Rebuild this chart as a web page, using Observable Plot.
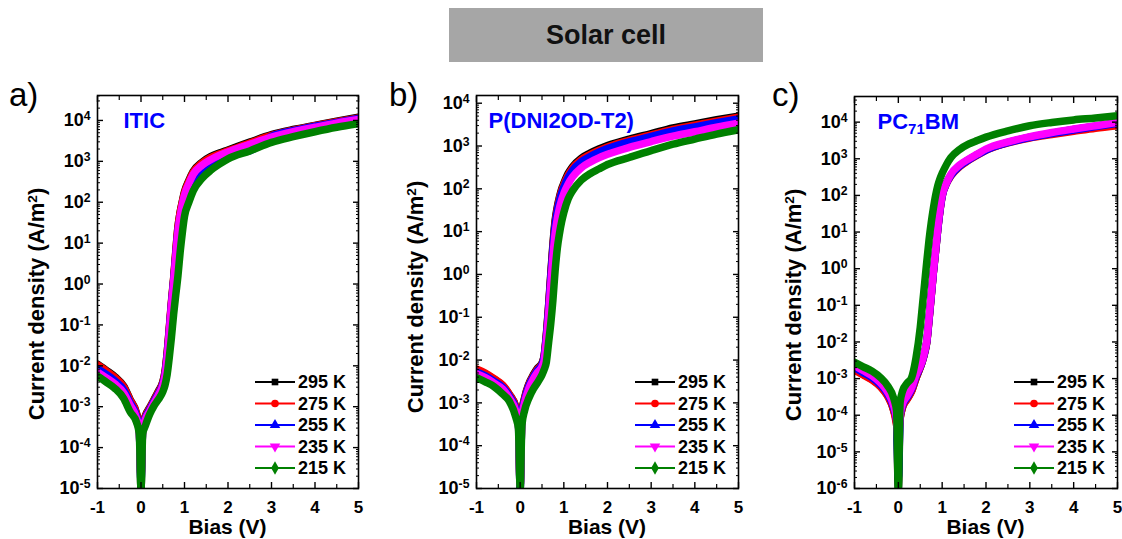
<!DOCTYPE html>
<html><head><meta charset="utf-8">
<script src="https://cdn.jsdelivr.net/npm/d3@7"></script>
<script src="https://cdn.jsdelivr.net/npm/@observablehq/plot@0.6"></script>
<style>
html,body{margin:0;padding:0;background:#fff;}
#root{position:relative;width:1122px;height:539px;overflow:hidden;font-family:"Liberation Sans",Arial,sans-serif;}
.title{position:absolute;left:449px;top:8px;width:314px;height:54px;background:#a6a6a6;display:flex;align-items:center;justify-content:center;font-weight:bold;font-size:27px;color:#111;}
.letter{position:absolute;top:78px;font-size:33px;line-height:1;color:#000;}
.panel{position:absolute;top:70px;}
.panel svg{overflow:visible;}
</style></head>
<body>
<div id="root">
  <div class="title">Solar cell</div>
  <div class="letter" style="left:9px">a)</div>
  <div class="letter" style="left:389px">b)</div>
  <div class="letter" style="left:772px">c)</div>
  <div class="panel" id="pa" style="left:0px"></div>
  <div class="panel" id="pb" style="left:380px"></div>
  <div class="panel" id="pc" style="left:760px"></div>
</div>
<script>
// ---- data ----
const bias = [-1, -0.8, -0.6, -0.4, -0.25, -0.1, -0.04, 0, 0.04, 0.1, 0.2, 0.3, 0.4, 0.5, 0.55, 0.6, 0.65, 0.7, 0.75, 0.8, 0.85, 0.9, 0.95, 1.0, 1.1, 1.2, 1.4, 1.6, 1.8, 2.0, 2.5, 3.0, 3.5, 4.0, 4.5, 5.0];
const temps = ["295 K", "275 K", "255 K", "235 K", "215 K"];
const seriesColors = ["#000000", "#ff0000", "#0000ff", "#ff00ff", "#008000"];
const panelNames = ["ITIC", "P(DNI2OD-T2)", "PC71BM"];
const xTitle = "Bias (V)";

// (a) ITIC
const itic295 = [1.1e-2, 7.8e-3, 5.4e-3, 3.2e-3, 1.5e-3, 6.8e-4, 3.2e-4, 1e-5, 3.4e-4, 6e-4, 9.5e-4, 1.5e-3, 2.4e-3, 4e-3, 7e-3, 2e-2, 8e-2, 0.35, 1.3, 6, 25, 58, 105, 180, 340, 570, 950, 1300, 1600, 1900, 2950, 4500, 6000, 7600, 9600, 1.2e4];
const itic275 = [1.05e-2, 7.5e-3, 5.2e-3, 3.1e-3, 1.45e-3, 6.6e-4, 3.1e-4, 2e-5, 3.3e-4, 5.8e-4, 9.2e-4, 1.45e-3, 2.3e-3, 3.9e-3, 6.8e-3, 2e-2, 8.5e-2, 0.38, 1.4, 6.5, 25, 56, 100, 170, 320, 540, 900, 1230, 1520, 1800, 2800, 4300, 5800, 7400, 9300, 1.15e4];
const itic255 = [8.5e-3, 6.2e-3, 4.3e-3, 2.6e-3, 1.25e-3, 5.8e-4, 2.8e-4, 1.5e-5, 3e-4, 5.3e-4, 8.5e-4, 1.35e-3, 2.1e-3, 3.6e-3, 6e-3, 1.7e-2, 7e-2, 0.32, 1.2, 5, 20, 42, 70, 105, 190, 320, 620, 950, 1250, 1550, 1800, 4100, 5600, 7200, 9000, 1.12e4];
const itic235 = [7e-3, 5.1e-3, 3.6e-3, 2.2e-3, 1.1e-3, 5.2e-4, 2.6e-4, 1.8e-5, 2.8e-4, 4.9e-4, 7.8e-4, 1.25e-3, 1.95e-3, 3.3e-3, 5.5e-3, 1.5e-2, 6.5e-2, 0.3, 1.1, 4.8, 19, 46, 88, 150, 285, 480, 800, 1100, 1400, 1700, 2600, 3900, 5300, 6800, 8600, 1.05e4];
const itic215 = [5.6e-3, 4e-3, 2.8e-3, 1.6e-3, 7.5e-4, 4.1e-4, 2.2e-4, 1e-5, 2.2e-4, 3.4e-4, 6.5e-4, 1.05e-3, 1.5e-3, 2.3e-3, 3.3e-3, 6e-3, 1.6e-2, 5e-2, 0.18, 0.55, 1.6, 6, 18, 45, 100, 190, 380, 600, 850, 1150, 1800, 2900, 4000, 5300, 6800, 8300];

// (b) P(DNI2OD-T2)
const dni295 = [6e-3, 4.8e-3, 3.6e-3, 2.5e-3, 1.6e-3, 8e-4, 4e-4, 1e-5, 6e-4, 1.3e-3, 2.8e-3, 4.5e-3, 6.5e-3, 8.5e-3, 1.3e-2, 4e-2, 0.18, 1.0, 5, 18, 38, 65, 100, 135, 230, 330, 520, 680, 850, 1020, 1450, 1950, 2650, 3300, 4100, 5000];
const dni275 = [6.2e-3, 5e-3, 3.7e-3, 2.6e-3, 1.6e-3, 8e-4, 4e-4, 1.2e-5, 5.8e-4, 1.25e-3, 2.7e-3, 4.3e-3, 6.2e-3, 8.2e-3, 1.25e-2, 3.8e-2, 0.17, 0.9, 4.5, 16, 34, 60, 92, 125, 210, 305, 480, 630, 790, 950, 1350, 1820, 2450, 3050, 3800, 4700];
const dni255 = [5.3e-3, 4.3e-3, 3.2e-3, 2.3e-3, 1.45e-3, 7.2e-4, 3.6e-4, 1e-5, 5.4e-4, 1.15e-3, 2.5e-3, 4e-3, 5.8e-3, 7.8e-3, 1.2e-2, 3.5e-2, 0.15, 0.8, 4, 14, 30, 52, 80, 110, 185, 270, 430, 570, 720, 870, 1250, 1680, 2250, 2800, 3500, 4300];
const dni235 = [4.8e-3, 3.9e-3, 2.9e-3, 2.1e-3, 1.3e-3, 6.4e-4, 3.2e-4, 1.2e-5, 4.8e-4, 1e-3, 2.2e-3, 3.6e-3, 5.2e-3, 7e-3, 1e-2, 2.8e-2, 0.11, 0.55, 2.6, 9, 20, 36, 55, 78, 130, 190, 310, 420, 530, 640, 930, 1270, 1700, 2150, 2750, 3400];
const dni215 = [3.9e-3, 3.1e-3, 2.4e-3, 1.6e-3, 1.1e-3, 4.6e-4, 2.5e-4, 1e-5, 3e-4, 6.5e-4, 1.3e-3, 2.1e-3, 3e-3, 4.5e-3, 6e-3, 9e-3, 2.5e-2, 7e-2, 0.25, 1.2, 4, 9, 17, 28, 58, 90, 160, 225, 290, 370, 540, 780, 1100, 1450, 1900, 2400];

// (c) PC71BM
const pcbm295 = [1.8e-3, 1.3e-3, 9.5e-4, 6e-4, 3.5e-4, 1.3e-4, 6e-5, 1e-6, 8e-5, 1.7e-4, 2.8e-4, 4.5e-4, 1e-3, 2e-3, 3e-3, 5e-3, 1e-2, 4e-2, 0.18, 0.8, 3, 12, 40, 100, 220, 360, 640, 940, 1300, 1750, 2800, 3900, 5000, 6300, 7800, 9500];
const pcbm275 = [1.7e-3, 1.25e-3, 9.2e-4, 5.8e-4, 3.4e-4, 1.25e-4, 5.5e-5, 3e-5, 8e-5, 1.7e-4, 2.7e-4, 4.4e-4, 1e-3, 2e-3, 3e-3, 5e-3, 1e-2, 4e-2, 0.17, 0.8, 3, 12, 38, 95, 210, 340, 610, 900, 1250, 1700, 2700, 3700, 4600, 5600, 6800, 8000];
const pcbm255 = [2e-3, 1.45e-3, 1.05e-3, 6.6e-4, 3.9e-4, 1.5e-4, 7e-5, 2e-6, 9e-5, 1.9e-4, 3e-4, 5e-4, 1.1e-3, 2.1e-3, 3.1e-3, 5.2e-3, 1.05e-2, 4.2e-2, 0.18, 0.82, 3.1, 12, 39, 95, 215, 350, 630, 920, 1280, 1720, 2750, 3800, 4900, 6100, 7600, 9300];
const pcbm235 = [2.3e-3, 1.65e-3, 1.2e-3, 7.5e-4, 4.4e-4, 1.7e-4, 8e-5, 1.5e-5, 1e-4, 2.1e-4, 3.3e-4, 5.5e-4, 1.2e-3, 2.2e-3, 3.2e-3, 5.5e-3, 1.1e-2, 4.5e-2, 0.19, 0.85, 3.2, 13, 41, 100, 220, 380, 680, 980, 1350, 1850, 2900, 4000, 5200, 6500, 8000, 9800];
const pcbm215 = [2.8e-3, 2.1e-3, 1.6e-3, 1.05e-3, 6.5e-4, 2.8e-4, 1.3e-4, 1e-6, 2.2e-4, 4.7e-4, 7.5e-4, 1.05e-3, 3.5e-3, 2.5e-2, 0.1, 0.4, 1.6, 6, 18, 45, 100, 185, 285, 400, 700, 1080, 1800, 2500, 3150, 3900, 5800, 8000, 9800, 1.15e4, 1.3e4, 1.5e4];

// ---- layout ----
const FONT = '"Liberation Sans", Arial, sans-serif';
const H = 469;
const panels = [
  {el: "#pa", series: [itic295, itic275, itic255, itic235, itic215], width: 370, ml: 97, mr: 12, mt: 25, mb: 51, ylo: -5, ytop: 4.61, nameDx: 26, yLabelX: 36, yLabelY: 234, name: panelNames[0]},
  {el: "#pb", series: [dni295, dni275, dni255, dni235, dni215], width: 370, ml: 96, mr: 12, mt: 25, mb: 51, ylo: -5, ytop: 4.18, nameDx: 12, yLabelX: 35, yLabelY: 227, name: panelNames[1]},
  {el: "#pc", series: [pcbm295, pcbm275, pcbm255, pcbm235, pcbm215], width: 362, ml: 94, mr: 5, mt: 26, mb: 51, ylo: -6, ytop: 4.70, nameDx: 23, yLabelX: 33, yLabelY: 235, name: panelNames[2]}
];

const xMajor = [-1, 0, 1, 2, 3, 4, 5];
const xMinor = [-0.5, 0.5, 1.5, 2.5, 3.5, 4.5];
const fmtY = d => "10^" + Math.round(Math.log10(d));
const NS = "http://www.w3.org/2000/svg";

function draw(p) {
  const rows = temps.flatMap((t, i) => bias.map((v, j) => ({V: v, J: p.series[i][j], T: t})));
  const ymax = Math.pow(10, p.ytop);
  const yMajor = d3.range(p.ylo, Math.floor(p.ytop) + 1).map(e => Math.pow(10, e));
  const yMinor = [];
  for (let e = p.ylo; e <= Math.floor(p.ytop); e++) for (let m = 2; m <= 9; m++) { const v = m * Math.pow(10, e); if (v < ymax) yMinor.push(v); }
  const blank = () => "";
  const svg = Plot.plot({
    width: p.width, height: H,
    marginLeft: p.ml, marginRight: p.mr, marginTop: p.mt, marginBottom: p.mb,
    style: {fontFamily: FONT, background: "transparent", color: "#000", overflow: "visible"},
    x: {domain: [-1, 5]},
    y: {type: "log", domain: [Math.pow(10, p.ylo), ymax]},
    color: {domain: temps, range: seriesColors},
    marks: [
      Plot.line(rows, {x: "V", y: "J", z: "T", stroke: "T", strokeWidth: 7.5, curve: "monotone-x", clip: true, strokeLinejoin: "round", strokeLinecap: "round"}),
      Plot.frame({stroke: "#000", strokeWidth: 1.6}),
      Plot.axisX({anchor: "bottom", ticks: xMajor, tickSize: -6, tickPadding: 18, tickFormat: d => String(d), fontSize: 17, fontWeight: "bold", label: null, strokeWidth: 1.4}),
      Plot.axisX({anchor: "bottom", ticks: xMinor, tickSize: -4, tickFormat: blank, label: null, strokeWidth: 1.2}),
      Plot.axisX({anchor: "top", ticks: xMajor, tickSize: -6, tickFormat: blank, label: null, strokeWidth: 1.4}),
      Plot.axisX({anchor: "top", ticks: xMinor, tickSize: -4, tickFormat: blank, label: null, strokeWidth: 1.2}),
      Plot.axisY({anchor: "left", ticks: yMajor, tickSize: -6, tickPadding: 13, tickFormat: fmtY, fontSize: 18, fontWeight: "bold", label: null, strokeWidth: 1.4}),
      Plot.axisY({anchor: "left", ticks: yMinor, tickSize: -3, tickFormat: blank, label: null, strokeWidth: 1}),
      Plot.axisY({anchor: "right", ticks: yMajor, tickSize: -6, tickFormat: blank, label: null, strokeWidth: 1.4}),
      Plot.axisY({anchor: "right", ticks: yMinor, tickSize: -3, tickFormat: blank, label: null, strokeWidth: 1}),
      Plot.text([p.name], {frameAnchor: "top-left", dx: p.nameDx, dy: 25, textAnchor: "start", lineAnchor: "middle", fill: "#0000ff", fontSize: 22, fontWeight: "bold"})
    ]
  });

  // superscript exponents on y tick labels
  svg.querySelectorAll('g[aria-label="y-axis tick label"] text').forEach(t => {
    const s = t.textContent;
    if (!s.includes("^")) return;
    const [b, e] = s.split("^");
    t.textContent = "";
    const t1 = document.createElementNS(NS, "tspan"); t1.textContent = b;
    const t2 = document.createElementNS(NS, "tspan"); t2.textContent = e;
    t2.setAttribute("dy", "-0.5em"); t2.setAttribute("font-size", "0.68em");
    t.append(t1, t2);
  });
  // subscript in PC71BM
  svg.querySelectorAll("text").forEach(t => {
    if (t.textContent === "PC71BM") {
      t.textContent = "";
      const a = document.createElementNS(NS, "tspan"); a.textContent = "PC";
      const b = document.createElementNS(NS, "tspan"); b.textContent = "71"; b.setAttribute("dy", "5"); b.setAttribute("font-size", "15");
      const c = document.createElementNS(NS, "tspan"); c.textContent = "BM"; c.setAttribute("dy", "-5");
      t.append(a, b, c);
    }
  });

  const s = d3.select(svg);
  const fx0 = p.ml, fx1 = p.width - p.mr, fy1 = H - p.mb;
  // axis titles
  s.append("text").attr("x", (fx0 + fx1) / 2).attr("y", fy1 + 39).attr("dy", "0.35em")
    .attr("text-anchor", "middle").attr("font-size", 21).attr("font-weight", "bold").attr("font-family", FONT).text(xTitle);
  const yl = s.append("text").attr("transform", `translate(${p.yLabelX},${p.yLabelY}) rotate(-90)`).attr("dy", "0.35em")
    .attr("text-anchor", "middle").attr("font-size", 22).attr("font-weight", "bold").attr("font-family", FONT);
  yl.append("tspan").text("Current density (A/m");
  yl.append("tspan").attr("dy", "-0.5em").attr("font-size", "0.62em").text("2");
  yl.append("tspan").attr("dy", "0.31em").text(")");

  // legend
  const syms = [d3.symbol(d3.symbolSquare, 44), d3.symbol(d3.symbolCircle, 46), d3.symbol(d3.symbolTriangle, 48), d3.symbol(d3.symbolTriangle, 48), d3.symbol(d3.symbolDiamond, 52)];
  const lg = s.append("g").attr("font-family", FONT);
  temps.forEach((t, i) => {
    const y = fy1 - 20 - (4 - i) * 21.5;
    lg.append("line").attr("x1", fx1 - 103).attr("x2", fx1 - 63).attr("y1", y).attr("y2", y).attr("stroke", seriesColors[i]).attr("stroke-width", 2);
    lg.append("path").attr("d", syms[i]()).attr("fill", seriesColors[i])
      .attr("transform", `translate(${fx1 - 83},${y})${i === 3 ? " rotate(180)" : ""}`);
    lg.append("text").attr("x", fx1 - 60).attr("y", y).attr("dy", "0.35em").attr("text-anchor", "start")
      .attr("font-size", 18).attr("font-weight", "bold").text(t);
  });

  document.querySelector(p.el).append(svg);
}
panels.forEach(draw);
</script>
</body></html>
